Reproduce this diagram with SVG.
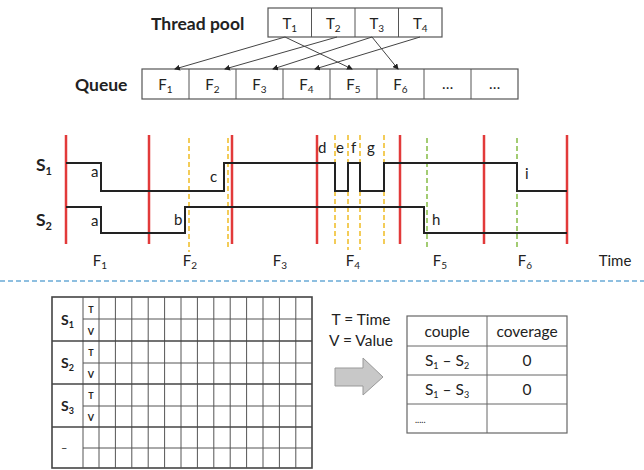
<svg xmlns="http://www.w3.org/2000/svg" width="644" height="470" viewBox="0 0 644 470">
<style>
text{font-family:Lato,"Open Sans","Liberation Sans",sans-serif;fill:#222}
.box{fill:#fff;stroke:#555;stroke-width:1.2}
.cell{font-size:15px;text-anchor:middle}
.bold{font-weight:bold;font-size:17.5px}
.red{stroke:#e23a3a;stroke-width:2.5}
.yel{stroke:#f0c030;stroke-width:1.6;stroke-dasharray:5,3}
.grn{stroke:#8cc050;stroke-width:1.6;stroke-dasharray:5,3}
.sig{fill:none;stroke:#222;stroke-width:2}
.lbl{font-size:15px}
.conn{stroke:#444;stroke-width:1;marker-end:url(#ah)}
.grid{stroke:#555;stroke-width:1;fill:none}
.grid2{stroke:#444;stroke-width:1.6;fill:none}
.sm{font-size:15.5px;text-anchor:middle}
</style>
<defs>
<marker id="ah" markerWidth="6" markerHeight="6" refX="5" refY="3" orient="auto" markerUnits="userSpaceOnUse">
<path d="M0,0 L6,3 L0,6 Z" fill="#222"/>
</marker>
</defs>

<g id="threadpool">
<text x="151" y="30" class="bold">Thread pool</text>
<rect x="268" y="8" width="174" height="29" class="box"/>
<line x1="311.5" y1="8" x2="311.5" y2="37" stroke="#555"/>
<line x1="355" y1="8" x2="355" y2="37" stroke="#555"/>
<line x1="398.5" y1="8" x2="398.5" y2="37" stroke="#555"/>
<text x="289.75" y="29" class="cell">T<tspan font-size="10" dy="3">1</tspan></text>
<text x="333.25" y="29" class="cell">T<tspan font-size="10" dy="3">2</tspan></text>
<text x="376.75" y="29" class="cell">T<tspan font-size="10" dy="3">3</tspan></text>
<text x="420.25" y="29" class="cell">T<tspan font-size="10" dy="3">4</tspan></text>
</g>

<g id="queue">
<text x="75" y="91" class="bold">Queue</text>
<rect x="142" y="69" width="376" height="30" class="box"/>
<g stroke="#555">
<line x1="189" y1="69" x2="189" y2="99"/><line x1="236" y1="69" x2="236" y2="99"/>
<line x1="283" y1="69" x2="283" y2="99"/><line x1="330" y1="69" x2="330" y2="99"/>
<line x1="377" y1="69" x2="377" y2="99"/><line x1="424" y1="69" x2="424" y2="99"/>
<line x1="471" y1="69" x2="471" y2="99"/>
</g>
<text x="165.5" y="90" class="cell">F<tspan font-size="10" dy="3">1</tspan></text>
<text x="212.5" y="90" class="cell">F<tspan font-size="10" dy="3">2</tspan></text>
<text x="259.5" y="90" class="cell">F<tspan font-size="10" dy="3">3</tspan></text>
<text x="306.5" y="90" class="cell">F<tspan font-size="10" dy="3">4</tspan></text>
<text x="353.5" y="90" class="cell">F<tspan font-size="10" dy="3">5</tspan></text>
<text x="400.5" y="90" class="cell">F<tspan font-size="10" dy="3">6</tspan></text>
<text x="447.5" y="89" class="cell" font-size="11">…</text>
<text x="494.5" y="89" class="cell" font-size="11">…</text>
</g>

<g id="connectors">
<line x1="285" y1="37" x2="175" y2="69" class="conn"/>
<line x1="285" y1="37" x2="352" y2="69" class="conn"/>
<line x1="337" y1="37" x2="225" y2="69" class="conn"/>
<line x1="372" y1="37" x2="273" y2="69" class="conn"/>
<line x1="372" y1="37" x2="398" y2="69" class="conn"/>
<line x1="420" y1="37" x2="315" y2="69" class="conn"/>
</g>

<g id="timing">
<g>
<line x1="66" y1="135" x2="66" y2="244" class="red"/>
<line x1="149" y1="135" x2="149" y2="244" class="red"/>
<line x1="232" y1="135" x2="232" y2="244" class="red"/>
<line x1="317" y1="135" x2="317" y2="244" class="red"/>
<line x1="400" y1="135" x2="400" y2="244" class="red"/>
<line x1="484" y1="135" x2="484" y2="244" class="red"/>
<line x1="567" y1="135" x2="567" y2="244" class="red"/>
</g>
<g>
<line x1="189" y1="138" x2="189" y2="252" class="yel"/>
<line x1="228" y1="138" x2="228" y2="250" class="yel"/>
<line x1="335" y1="135" x2="335" y2="246" class="yel"/>
<line x1="348" y1="135" x2="348" y2="250" class="yel"/>
<line x1="360" y1="135" x2="360" y2="250" class="yel"/>
<line x1="384" y1="135" x2="384" y2="246" class="yel"/>
<line x1="427" y1="138" x2="427" y2="250" class="grn"/>
<line x1="517" y1="138" x2="517" y2="250" class="grn"/>
</g>
<path d="M66,163 H101 V191 H224 V163 H335 V191 H348 V163 H360 V191 H384 V163 H517 V191 H567" class="sig"/>
<path d="M66,207 H101 V233 H185 V207 H424 V233 H567" class="sig"/>
<text x="36" y="171" class="bold" font-size="17">S<tspan font-size="11" dy="4">1</tspan></text>
<text x="36" y="226" class="bold" font-size="17">S<tspan font-size="11" dy="4">2</tspan></text>
<text x="91" y="177" class="lbl">a</text>
<text x="91" y="226" class="lbl">a</text>
<text x="174" y="225" class="lbl">b</text>
<text x="210" y="182" class="lbl">c</text>
<text x="318" y="153" class="lbl">d</text>
<text x="336" y="153" class="lbl">e</text>
<text x="351" y="153" class="lbl">f</text>
<text x="367" y="153" class="lbl">g</text>
<text x="432" y="225" class="lbl">h</text>
<text x="525" y="179" class="lbl">i</text>
<text x="100" y="266" class="cell">F<tspan font-size="10" dy="3">1</tspan></text>
<text x="190" y="266" class="cell">F<tspan font-size="10" dy="3">2</tspan></text>
<text x="280" y="266" class="cell">F<tspan font-size="10" dy="3">3</tspan></text>
<text x="353" y="266" class="cell">F<tspan font-size="10" dy="3">4</tspan></text>
<text x="440" y="266" class="cell">F<tspan font-size="10" dy="3">5</tspan></text>
<text x="525" y="266" class="cell">F<tspan font-size="10" dy="3">6</tspan></text>
<text x="615" y="266" class="cell" font-size="16">Time</text>
</g>

<line x1="0" y1="281" x2="644" y2="281" stroke="#6aaad6" stroke-width="1.6" stroke-dasharray="5,3"/>

<g id="datatable">
<rect x="52" y="297" width="260" height="171" class="grid2"/>
<g class="grid">
<line x1="83" y1="297" x2="83" y2="468"/>
<line x1="99" y1="297" x2="99" y2="468"/>
<line x1="115.4" y1="297" x2="115.4" y2="468"/>
<line x1="131.8" y1="297" x2="131.8" y2="468"/>
<line x1="148.2" y1="297" x2="148.2" y2="468"/>
<line x1="164.6" y1="297" x2="164.6" y2="468"/>
<line x1="181" y1="297" x2="181" y2="468"/>
<line x1="197.4" y1="297" x2="197.4" y2="468"/>
<line x1="213.8" y1="297" x2="213.8" y2="468"/>
<line x1="230.2" y1="297" x2="230.2" y2="468"/>
<line x1="246.6" y1="297" x2="246.6" y2="468"/>
<line x1="263" y1="297" x2="263" y2="468"/>
<line x1="279.4" y1="297" x2="279.4" y2="468"/>
<line x1="295.8" y1="297" x2="295.8" y2="468"/>
<line x1="83" y1="319" x2="312" y2="319"/>
<line x1="83" y1="363" x2="312" y2="363"/>
<line x1="83" y1="406" x2="312" y2="406"/>
<line x1="83" y1="448" x2="312" y2="448"/>
</g>
<g class="grid2">
<line x1="52" y1="341" x2="312" y2="341"/>
<line x1="52" y1="384" x2="312" y2="384"/>
<line x1="52" y1="427" x2="312" y2="427"/>
</g>
<text x="61" y="325" font-size="14" font-weight="bold">S<tspan font-size="9" dy="3">1</tspan></text>
<text x="61" y="368" font-size="14" font-weight="bold">S<tspan font-size="9" dy="3">2</tspan></text>
<text x="61" y="411" font-size="14" font-weight="bold">S<tspan font-size="9" dy="3">3</tspan></text>
<text x="61" y="452" font-size="11">–</text>
<text x="91" y="313" font-size="9" font-weight="bold" text-anchor="middle">T</text>
<text x="91" y="335" font-size="9" font-weight="bold" text-anchor="middle">V</text>
<text x="91" y="356" font-size="9" font-weight="bold" text-anchor="middle">T</text>
<text x="91" y="378" font-size="9" font-weight="bold" text-anchor="middle">V</text>
<text x="91" y="399" font-size="9" font-weight="bold" text-anchor="middle">T</text>
<text x="91" y="421" font-size="9" font-weight="bold" text-anchor="middle">V</text>
</g>

<g id="legend">
<text x="361" y="325" class="sm">T = Time</text>
<text x="361" y="346" class="sm">V = Value</text>
</g>

<g id="bigarrow">
<path d="M335,368 H363 V358 L383,377 L363,395 V386 H335 Z" fill="#c8c8c8" stroke="#999" stroke-width="1"/>
</g>

<g id="coveragetable">
<rect x="407" y="316" width="160" height="117" fill="#fff" stroke="#666" stroke-width="1.2"/>
<g stroke="#666" stroke-width="1">
<line x1="487" y1="316" x2="487" y2="433"/>
<line x1="407" y1="346" x2="567" y2="346"/>
<line x1="407" y1="375" x2="567" y2="375"/>
<line x1="407" y1="404" x2="567" y2="404"/>
</g>
<text x="447" y="337" class="sm">couple</text>
<text x="527" y="337" class="sm">coverage</text>
<text x="447" y="366" class="sm">S<tspan font-size="9" dy="3">1</tspan><tspan dy="-3"> – S</tspan><tspan font-size="9" dy="3">2</tspan></text>
<text x="527" y="366" class="sm">0</text>
<text x="447" y="395" class="sm">S<tspan font-size="9" dy="3">1</tspan><tspan dy="-3"> – S</tspan><tspan font-size="9" dy="3">3</tspan></text>
<text x="527" y="395" class="sm">0</text>
<text x="415" y="423" font-size="9">.....</text>
</g>
</svg>
